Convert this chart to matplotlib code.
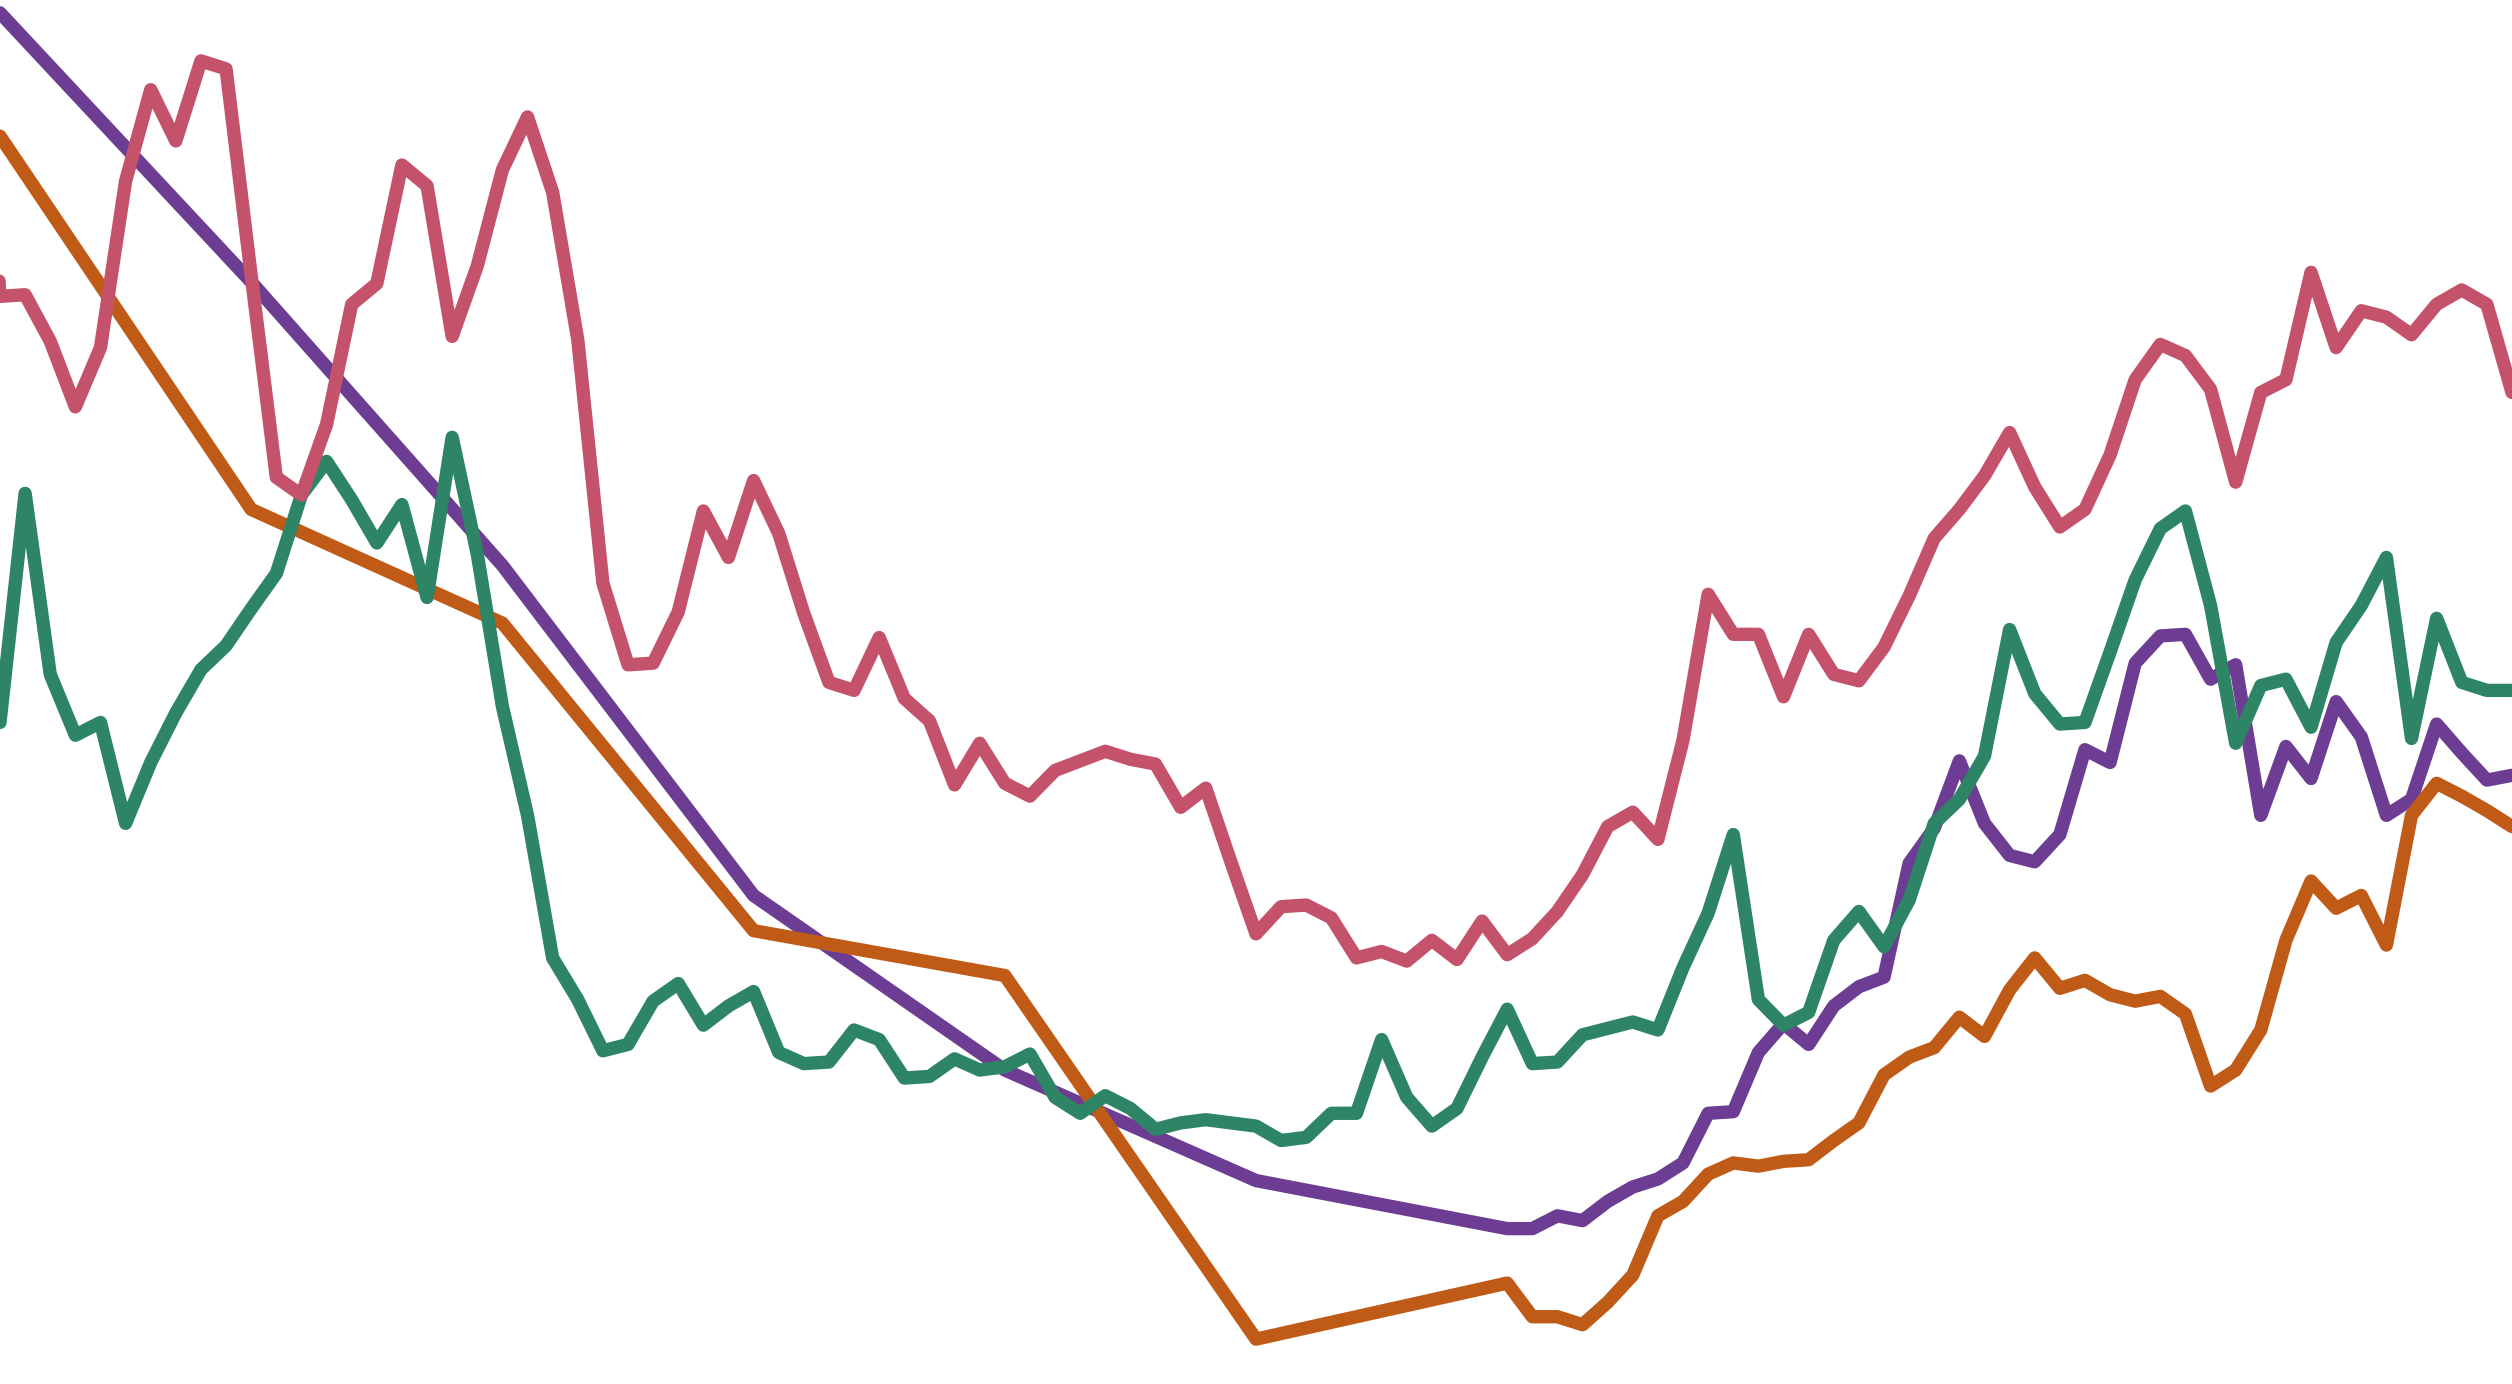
"""Four overlapping index series drawn edge to edge, no axes or labels."""

import matplotlib

matplotlib.use("Agg")
import matplotlib.pyplot as plt

# period index for the dense series; red also has one period before the window
periods = list(range(101))
red_periods = [-1] + periods

# sparse-then-dense periods for the purple and orange series
coarse_periods = [0, 10, 20, 30, 40, 50] + list(range(60, 101))

red_values = [
    92.0,
    67.9, 68.0, 65.1, 61.0, 64.7, 75.1, 80.8, 77.6, 82.6, 82.1,
    69.2, 56.6, 55.5, 59.9, 67.4, 68.7, 76.1, 74.8, 65.4, 69.8,
    75.8, 79.1, 74.4, 65.2, 50.0, 44.9, 45.0, 48.2, 54.5, 51.6,
    56.4, 53.1, 48.1, 43.8, 43.3, 46.6, 42.8, 41.4, 37.4, 40.0,
    37.5, 36.7, 38.3, 38.9, 39.5, 39.0, 38.7, 36.0, 37.2, 32.6,
    28.1, 29.8, 29.9, 29.1, 26.6, 27.0, 26.4, 27.7, 26.5, 28.9,
    26.8, 27.8, 29.5, 31.8, 34.8, 35.7, 34.0, 40.2, 49.3, 46.8,
    46.8, 42.9, 46.8, 44.3, 43.9, 46.0, 49.2, 52.8, 54.6, 56.7,
    59.4, 56.0, 53.5, 54.6, 58.0, 62.7, 64.9, 64.2, 62.1, 56.3,
    61.9, 62.7, 69.4, 64.7, 67.0, 66.6, 65.5, 67.4, 68.3, 67.4,
    61.9,
]

green_values = [
    41.3, 55.6, 44.3, 40.5, 41.3, 35.0, 38.8, 41.9, 44.6, 46.1,
    48.4, 50.6, 55.5, 57.6, 55.2, 52.5, 54.9, 49.1, 59.1, 51.8,
    42.3, 35.5, 26.6, 24.0, 20.8, 21.2, 23.9, 25.0, 22.4, 23.6,
    24.5, 20.7, 20.0, 20.1, 22.1, 21.5, 19.1, 19.2, 20.3, 19.6,
    19.8, 20.6, 17.9, 16.9, 18.0, 17.2, 15.9, 16.3, 16.5, 16.3,
    16.1, 15.2, 15.4, 16.9, 16.9, 21.5, 17.9, 16.1, 17.2, 20.4,
    23.4, 20.0, 20.1, 21.8, 22.2, 22.6, 22.1, 26.0, 29.4, 34.3,
    24.0, 22.4, 23.2, 27.7, 29.5, 27.3, 30.2, 35.0, 36.5, 39.2,
    47.1, 43.1, 41.2, 41.3, 45.7, 50.2, 53.4, 54.5, 48.6, 40.0,
    43.6, 44.0, 41.0, 46.3, 48.6, 51.6, 40.3, 47.8, 43.8, 43.3,
    43.3,
]

purple_values = [
    85.6, 68.8, 51.1, 30.5, 19.6, 12.7,
    9.7, 9.7, 10.5, 10.2, 11.4, 12.3, 12.8, 13.8, 16.9, 17.0,
    20.7, 22.5, 21.2, 23.6, 24.8, 25.4, 32.5, 34.7, 38.9, 35.0,
    33.0, 32.6, 34.3, 39.6, 38.8, 45.0, 46.7, 46.8, 44.0, 44.9,
    35.5, 39.8, 37.8, 42.6, 40.4, 35.5, 36.5, 41.2, 39.4, 37.7,
    38.0,
]

orange_values = [
    77.9, 54.6, 47.5, 28.3, 25.5, 2.8,
    6.3, 4.2, 4.2, 3.7, 5.1, 6.8, 10.5, 11.4, 13.1, 13.8,
    13.6, 13.9, 14.0, 15.2, 16.3, 19.3, 20.4, 21.0, 22.9, 21.7,
    24.6, 26.6, 24.7, 25.2, 24.3, 23.9, 24.2, 23.1, 18.6, 19.6,
    22.1, 27.7, 31.4, 29.7, 30.5, 27.4, 35.5, 37.5, 36.7, 35.8,
    34.8,
]

COLORS = {
    "purple": "#6c3d92",
    "orange": "#bf5b17",
    "green": "#2e8566",
    "red": "#c4526a",
}


def main() -> None:
    fig = plt.figure(figsize=(12.56, 6.92), dpi=200)
    ax = fig.add_axes([0, 0, 1, 1])

    style = dict(linewidth=4.8, solid_joinstyle="round", solid_capstyle="round")
    ax.plot(coarse_periods, purple_values, color=COLORS["purple"], **style)
    ax.plot(coarse_periods, orange_values, color=COLORS["orange"], **style)
    ax.plot(periods, green_values, color=COLORS["green"], **style)
    ax.plot(red_periods, red_values, color=COLORS["red"], **style)

    ax.set_xlim(0, 100)
    ax.set_ylim(0, 86.4)
    ax.set_axis_off()

    fig.savefig("out.png", dpi=200, facecolor="white")
    plt.close(fig)


if __name__ == "__main__":
    main()
